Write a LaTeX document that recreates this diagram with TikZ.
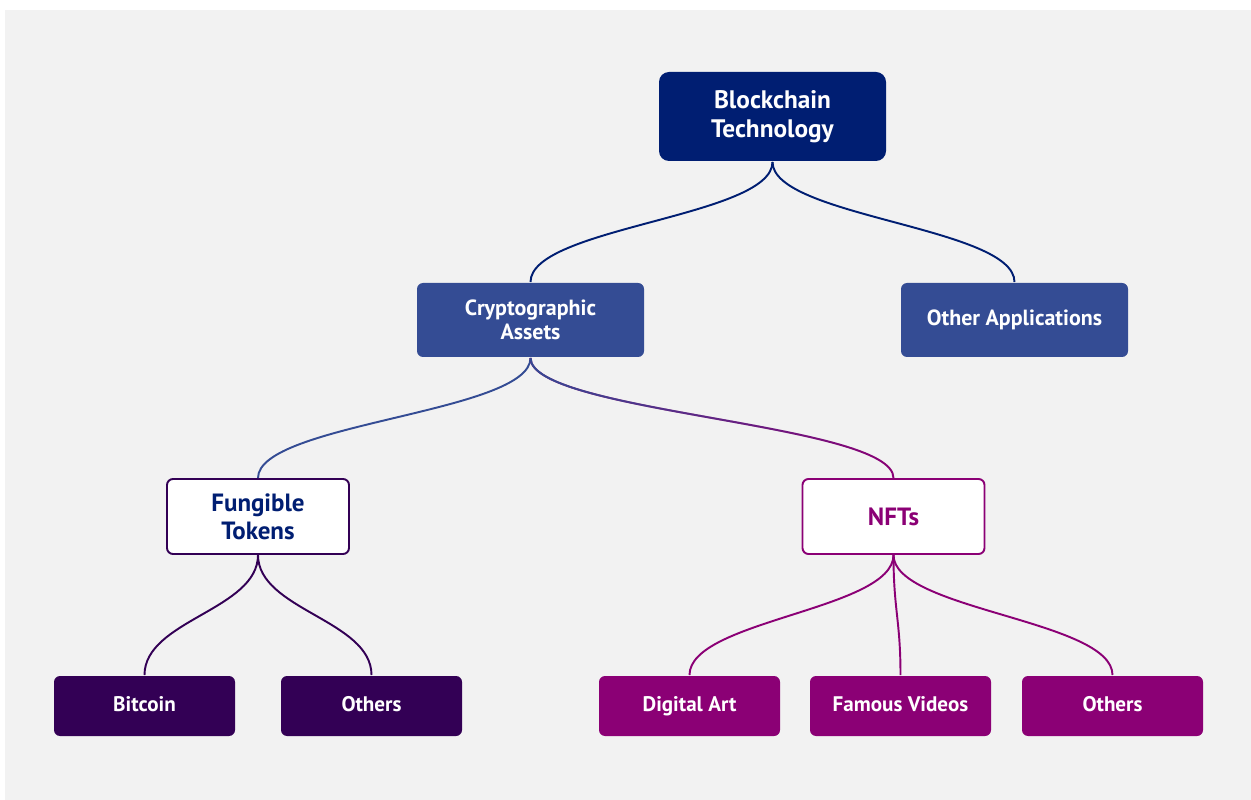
\documentclass[tikz,border=0pt]{standalone}
\usepackage{fontspec}
\setmainfont{PT Sans}
\usetikzlibrary{fadings}

\definecolor{paper}{HTML}{F2F2F2}
\definecolor{navy}{HTML}{001E72}
\definecolor{steel}{HTML}{344C94}
\definecolor{plum}{HTML}{330055}
\definecolor{berry}{HTML}{8B0075}

\begin{document}
\begin{tikzpicture}[
    box/.style={rounded corners=0.12cm, align=center, font=\bfseries,
        inner sep=2pt, line width=1.1pt},
    root/.style={box, fill=navy, text=white, rounded corners=0.2cm,
        minimum width=4.54cm, minimum height=1.78cm,
        font=\bfseries\fontsize{14.4}{16.2}\selectfont},
    mid/.style={box, fill=steel, text=white,
        minimum width=4.54cm, minimum height=1.48cm,
        font=\bfseries\fontsize{12.5}{14}\selectfont},
    group/.style={box, fill=white, draw=#1,
        minimum width=3.64cm, minimum height=1.5cm,
        font=\bfseries\fontsize{14.2}{15.8}\selectfont},
    leaf/.style={box, fill=#1, text=white,
        minimum width=3.62cm, minimum height=1.2cm,
        text height=1.6ex, text depth=0.4ex,
        font=\bfseries\fontsize{12}{14}\selectfont},
    branch/.style={draw=#1, line width=1.1pt,
        to path={.. controls +(0,-1.1) and +(0,1.1) .. (\tikztotarget)}}
]
    % backdrop
    \useasboundingbox (0,0) rectangle (25.02,-16);
    \fill[paper] (0.1,-0.2) rectangle (25.02,-16);

    \node[root] (chain) at (15.45,-2.33) {Blockchain\\Technology};
    \node[mid] (crypto) at (10.61,-6.4) {Cryptographic\\Assets};
    \node[mid] (apps) at (20.29,-6.4) {Other Applications};
    \node[group=plum, text=navy] (fungible) at (5.16,-10.33) {Fungible\\Tokens};
    \node[group=berry, text=berry] (nft) at (17.87,-10.33) {NFTs};
    \node[leaf=plum] (bitcoin) at (2.89,-14.12) {Bitcoin};
    \node[leaf=plum] (othersA) at (7.43,-14.12) {Others};
    \node[leaf=berry] (art) at (13.79,-14.12) {Digital Art};
    \node[leaf=berry] (videos) at (18.01,-14.12) {Famous Videos};
    \node[leaf=berry] (othersB) at (22.25,-14.12) {Others};

    \draw[branch=navy] (chain.south) to (crypto.north);
    \draw[branch=navy] (chain.south) to (apps.north);
    \draw[branch=steel] (crypto.south) to (fungible.north);
    % blue fading into magenta towards the NFT box
    \draw[branch=berry] (crypto.south) to (nft.north);
    \draw[branch=steel, path fading=east] (crypto.south) to (nft.north);
    \draw[branch=plum] (fungible.south) to (bitcoin.north);
    \draw[branch=plum] (fungible.south) to (othersA.north);
    \draw[branch=berry] (nft.south) to (art.north);
    \draw[branch=berry] (nft.south) to (videos.north);
    \draw[branch=berry] (nft.south) to (othersB.north);
\end{tikzpicture}
\end{document}
